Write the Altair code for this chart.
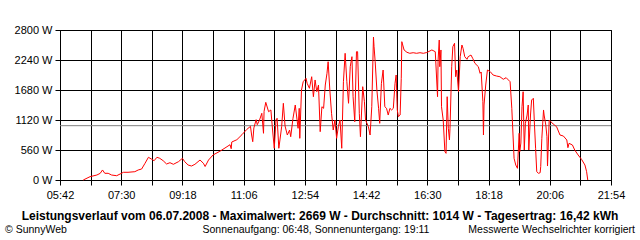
import altair as alt
import pandas as pd

# ---- data (minutes since midnight, watts) ----
minutes = [383, 395, 407, 413, 417, 421, 427, 433, 442, 448, 454, 462, 474, 480, 486, 492, 498, 504, 508, 513,
           518, 524, 530, 536, 542, 551, 558, 562, 568, 574, 580, 589, 595, 598, 604, 612, 624, 633, 642, 644,
           645, 654, 663, 671, 678, 680, 682, 684, 688, 690, 694, 698, 701, 702, 705, 710, 714, 717, 720, 723,
           725, 728, 730, 733, 736, 739, 743, 747, 749, 753, 757, 762, 764, 765, 768, 771, 776, 778, 782, 786,
           789, 792, 795, 798, 801, 804, 807, 810, 813, 815, 818, 821, 824, 827, 830, 833, 836, 839, 842, 845,
           848, 851, 854, 857, 859, 862, 865, 867, 870, 872, 876, 879, 881, 886, 889, 892, 895, 896, 898, 901,
           904, 906, 909, 912, 915, 918, 921, 924, 927, 930, 933, 935, 937, 939, 942, 944, 945, 949, 954, 959,
           965, 971, 977, 983, 989, 998, 1004, 1008, 1009, 1011, 1012, 1014, 1015, 1018, 1021, 1023, 1025, 1027, 1029, 1030,
           1033, 1035, 1038, 1040, 1042, 1045, 1048, 1051, 1053, 1056, 1060, 1062, 1067, 1070, 1074, 1080, 1083, 1085, 1088, 1089,
           1090, 1093, 1096, 1101, 1106, 1112, 1118, 1124, 1129, 1133, 1136, 1139, 1143, 1146, 1149, 1152, 1153, 1155, 1157, 1159,
           1161, 1163, 1166, 1168, 1169, 1172, 1174, 1177, 1179, 1181, 1183, 1186, 1189, 1190, 1192, 1195, 1196, 1199, 1201, 1202,
           1205, 1208, 1212, 1218, 1224, 1230, 1236, 1238, 1240, 1246, 1250, 1256, 1262, 1268, 1271, 1273]
watts = [0, 62, 93, 125, 187, 125, 125, 93, 80, 112, 144, 144, 155, 187, 205, 312, 424, 386, 360, 424,
         405, 360, 299, 323, 293, 342, 405, 342, 280, 261, 293, 373, 312, 252, 373, 467, 536, 597, 659, 584,
         709, 752, 846, 939, 1002, 840, 715, 971, 1126, 1032, 1120, 1245, 872, 1282, 1450, 1275, 1307, 933, 592, 1120,
         1152, 592, 747, 995, 1432, 1008, 840, 933, 808, 1152, 1400, 965, 1338, 778, 1680, 1835, 1898, 1805, 1712, 1928,
         1555, 1867, 1648, 1773, 902, 1368, 1338, 1773, 1992, 2208, 1680, 1245, 933, 1120, 778, 995, 1120, 592, 1835, 2365,
         1835, 1432, 2115, 2302, 1555, 1088, 2395, 2395, 1245, 808, 1742, 1462, 1120, 995, 840, 1368, 2669, 2488, 2208, 1680,
         1338, 1058, 1805, 2053, 1368, 1338, 1213, 1338, 1307, 1338, 1805, 1960, 1307, 1182, 1213, 1898, 2582, 2427, 2384, 2365,
         2376, 2365, 2376, 2365, 2380, 2427, 2395, 1555, 2240, 2613, 2115, 2427, 1368, 1120, 528, 498, 1555, 965, 747, 965,
         2115, 2488, 2552, 1928, 2053, 1648, 2302, 2520, 2458, 2302, 2253, 2302, 2333, 2272, 2178, 2115, 1992, 2016, 1462, 840,
         1400, 1773, 2053, 2022, 1960, 1941, 1928, 1880, 1910, 1867, 1835, 1338, 405, 280, 218, 872, 528, 690, 1368, 1648,
         560, 1058, 1213, 1400, 560, 1213, 1493, 1525, 1027, 592, 155, 125, 136, 248, 778, 1307, 1213, 1027, 808, 261,
         1120, 1088, 1045, 995, 840, 821, 747, 603, 685, 653, 560, 467, 386, 280, 155, 0]

average_w = [1014]
x_start, x_end, x_step = 342, 1314, 54          # 05:42 .. 21:54
x_ticks = list(range(x_start, x_end + 1, x_step))
y_ticks = [0, 560, 1120, 1680, 2240, 2800]

title_text = ["Leistungsverlauf vom 06.07.2008 - Maximalwert: 2669 W - Durchschnitt: 1014 W - Tagesertrag: 16,42 kWh"]
copyright_text = ["\u00a9 SunnyWeb"]
sun_text = ["Sonnenaufgang: 06:48, Sonnenuntergang: 19:11"]
note_text = ["Messwerte Wechselrichter korrigiert"]

FONT = "Liberation Sans"

df = pd.DataFrame({"t": minutes, "w": watts})

x_label = ("(datum.value - 342) % 108 == 0 ? "
           "pad(toString(floor(datum.value / 60)), 2, '0', 'left') + ':' + "
           "pad(toString(datum.value % 60), 2, '0', 'left') : ''")

x_enc = alt.X("t:Q", scale=alt.Scale(domain=[x_start, x_end], nice=False, zero=False),
              axis=alt.Axis(values=x_ticks, tickCount=len(x_ticks), labelExpr=x_label, title=None, grid=True,
                            gridColor="black", gridOpacity=1, tickColor="black", tickSize=5,
                            domainColor="black", labelColor="black", labelFont=FONT, labelFontSize=11,
                            labelPadding=4, labelOverlap=False, labelFlush=False))
y_enc = alt.Y("w:Q", scale=alt.Scale(domain=[0, 2800], nice=False),
              axis=alt.Axis(values=y_ticks, tickCount=len(y_ticks), labelExpr="datum.value + ' W'", title=None,
                            grid=True, gridColor="black", gridOpacity=1, tickColor="black", tickSize=5,
                            domainColor="black", labelColor="black", labelFont=FONT, labelFontSize=11,
                            labelPadding=3, labelOverlap=False, labelFlush=False))

line = alt.Chart(df).mark_line(color="#ff0000", strokeWidth=1, interpolate="linear").encode(x=x_enc, y=y_enc)

avg = alt.Chart(pd.DataFrame({"w": average_w})).mark_rule(color="#808080", strokeWidth=1).encode(y="w:Q")

def text_layer(txt, xpx, ypx, align, size, weight="normal"):
    return alt.Chart(pd.DataFrame({"s": txt})).mark_text(
        align=align, baseline="middle", font=FONT, fontSize=size, fontWeight=weight, color="black"
    ).encode(text="s:N", x=alt.value(xpx), y=alt.value(ypx))

title = text_layer(title_text, 260, 186, "center", 12, "bold")
copy_ = text_layer(copyright_text, -55, 200, "left", 10.5)
sun = text_layer(sun_text, 256, 200, "center", 10.5)
note = text_layer(note_text, 575, 200, "right", 10.5)

chart = alt.layer(avg, line, title, copy_, sun, note).properties(
    width=551, height=150,
    autosize=alt.AutoSizeParams(type="none"),
    padding={"left": 60, "top": 30, "right": 29, "bottom": 60},
    background="white",
).configure_view(stroke="black", strokeWidth=1)

chart.save("out.html", embed_options={"renderer": "svg", "actions": False})
